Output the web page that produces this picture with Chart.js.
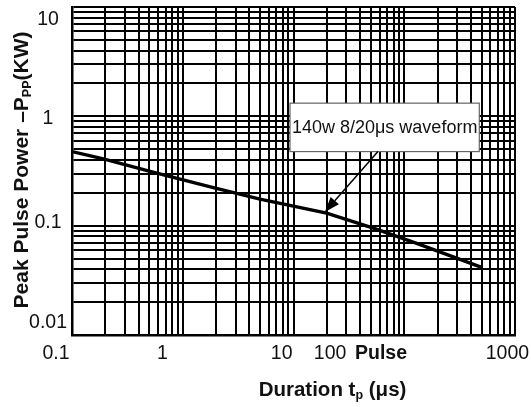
<!DOCTYPE html>
<html><head><meta charset="utf-8">
<script src="https://cdn.jsdelivr.net/npm/chart.js@4.4.0/dist/chart.umd.min.js"></script>
<style>html,body{margin:0;padding:0;background:#fff;overflow:hidden}#wrap{width:531px;height:407px;position:relative}</style>
</head><body><div id="wrap"><canvas id="c"></canvas></div>
<script>
// ---- data ----
const durations = [0.1, 0.192, 0.582, 1.89, 4.98, 19.9, 52.6, 129.5, 500];      // µs
const peakPower = [0.476, 0.408, 0.302, 0.223, 0.175, 0.130, 0.0948, 0.069, 0.0415]; // kW

// tick labels (placed where the reference prints them)
const xTickValues = [0.0717, 0.656, 7.82, 21.4, 61.7, 855];
const xTickLabels = ['0.1', '1', '10', '100', 'Pulse', '1000'];
const xTickBold   = [false, false, false, false, true, false];
const yTickValues = [7.65, 0.949, 0.106, 0.0129];
const yTickLabels = ['10', '1', '0.1', '0.01'];

// grid decades
const xDecades = [0.1, 1, 10, 100];
const xMax = 1000;
const yDecades = [0.01, 0.1, 1];
const yMax = 10;
const gridSteps = [1, 2, 3, 4, 5, 6, 7, 8, 9];

// annotation
const noteText = '140w 8/20μs waveform';
const noteBoxX = [9.3, 476];
const noteBoxY = [1.32, 0.476];
const noteArrowFrom = [57.9, 0.476];
const noteArrowTo = [19.2, 0.1336];

const FAMILY = '"Liberation Sans", Arial, Helvetica, sans-serif';

function buildTicks(decades, max, labelVals, labelTexts, bold) {
  const t = [];
  decades.forEach(d => gridSteps.forEach(s => t.push({value: +(s * d).toPrecision(6), isGrid: true, text: ''})));
  t.push({value: max, isGrid: true, text: ''});
  labelVals.forEach((v, i) => t.push({value: v, isGrid: false, text: labelTexts[i], bold: bold ? bold[i] : false}));
  t.sort((a, b) => a.value - b.value);
  return t;
}

const annotationPlugin = {
  id: 'note',
  afterDatasetsDraw(chart) {
    const {ctx, scales: {x, y}} = chart;
    ctx.save();
    const l = x.getPixelForValue(noteBoxX[0]), r = x.getPixelForValue(noteBoxX[1]);
    const t = y.getPixelForValue(noteBoxY[0]), b = y.getPixelForValue(noteBoxY[1]);
    ctx.fillStyle = '#fff';
    ctx.fillRect(l, t, r - l, b - t);
    ctx.strokeStyle = '#666';
    ctx.lineWidth = 1.2;
    ctx.strokeRect(l, t, r - l, b - t);
    ctx.fillStyle = '#111';
    ctx.font = '18px ' + FAMILY;
    ctx.textAlign = 'center';
    ctx.textBaseline = 'middle';
    ctx.fillText(noteText, (l + r) / 2, (t + b) / 2 + 1);
    // arrow
    const x1 = x.getPixelForValue(noteArrowFrom[0]), y1 = y.getPixelForValue(noteArrowFrom[1]);
    const x2 = x.getPixelForValue(noteArrowTo[0]), y2 = y.getPixelForValue(noteArrowTo[1]);
    const ang = Math.atan2(y2 - y1, x2 - x1);
    const hl = 15, hw = 5.5;
    const bx = x2 - hl * Math.cos(ang), by = y2 - hl * Math.sin(ang);
    ctx.strokeStyle = '#000';
    ctx.lineWidth = 1.5;
    ctx.beginPath(); ctx.moveTo(x1, y1); ctx.lineTo(bx, by); ctx.stroke();
    ctx.fillStyle = '#000';
    ctx.beginPath();
    ctx.moveTo(x2, y2);
    ctx.lineTo(bx + hw * Math.sin(ang), by - hw * Math.cos(ang));
    ctx.lineTo(bx - hw * Math.sin(ang), by + hw * Math.cos(ang));
    ctx.closePath(); ctx.fill();
    ctx.restore();
  }
};

function drawRich(ctx, parts, cx, baseY) {
  let total = 0;
  parts.forEach(p => { ctx.font = 'bold ' + p.size + 'px ' + FAMILY; p.w = ctx.measureText(p.t).width; total += p.w; });
  let px = cx - total / 2;
  ctx.textAlign = 'left';
  ctx.textBaseline = 'alphabetic';
  parts.forEach(p => { ctx.font = 'bold ' + p.size + 'px ' + FAMILY; ctx.fillText(p.t, px, baseY + p.dy); px += p.w; });
}

const titlePlugin = {
  id: 'titles',
  afterDraw(chart) {
    const {ctx, chartArea: ca} = chart;
    ctx.save();
    ctx.fillStyle = '#111';
    // x-axis title
    drawRich(ctx, [
      {t: 'Duration t', size: 20.5, dy: 0},
      {t: 'p', size: 12.5, dy: 3},
      {t: ' (μs)', size: 20.5, dy: 0}
    ], 332.5, 396);
    // y-axis title
    ctx.translate(20, (ca.top + ca.bottom) / 2 - 1);
    ctx.rotate(-Math.PI / 2);
    drawRich(ctx, [
      {t: 'Peak Pulse Power –P', size: 21, dy: 0},
      {t: 'PP', size: 12.5, dy: 3},
      {t: '(KW)', size: 21, dy: 0}
    ], 0, 7.5);
    ctx.restore();
  }
};

const xTicks = buildTicks(xDecades, xMax, xTickValues, xTickLabels, xTickBold);
const yTicks = buildTicks(yDecades, yMax, yTickValues, yTickLabels, null);

const gridColor = c => (c.tick && c.tick.isGrid) ? '#000' : 'rgba(0,0,0,0)';

new Chart(document.getElementById('c'), {
  type: 'line',
  data: {
    datasets: [{
      data: durations.map((d, i) => ({x: d, y: peakPower[i]})),
      borderColor: '#000',
      borderWidth: 3.4,
      pointRadius: 0,
      tension: 0,
      fill: false
    }]
  },
  options: {
    responsive: true,
    maintainAspectRatio: false,
    animation: false,
    devicePixelRatio: 1,
    layout: {padding: {left: 0, right: 16, top: 7, bottom: 0}},
    plugins: {legend: {display: false}, tooltip: {enabled: false}, title: {display: false}},
    scales: {
      x: {
        type: 'logarithmic', min: 0.1, max: xMax,
        afterBuildTicks: s => { s.ticks = xTicks.map(t => Object.assign({}, t)); },
        afterFit: s => { s.height = 72; s.paddingLeft = 0; s.paddingRight = 0; },
        grid: {color: gridColor, lineWidth: 2, drawTicks: false},
        border: {display: true, color: '#000', width: 2.5},
        ticks: {
          autoSkip: false, maxRotation: 0, padding: 7, color: '#111',
          callback: (v, i, ts) => ts[i].text,
          font: c => ({family: FAMILY, size: 19.5, weight: (c.tick && c.tick.bold) ? 'bold' : 'normal'})
        }
      },
      y: {
        type: 'logarithmic', min: 0.01, max: yMax,
        afterBuildTicks: s => { s.ticks = yTicks.map(t => Object.assign({}, t)); },
        afterFit: s => { s.width = 72; s.paddingTop = 0; s.paddingBottom = 0; },
        grid: {color: gridColor, lineWidth: 2, drawTicks: false},
        border: {display: true, color: '#000', width: 2.5},
        ticks: {
          autoSkip: false, crossAlign: 'center', padding: 5, color: '#111',
          callback: (v, i, ts) => ts[i].text,
          font: {family: FAMILY, size: 19.5}
        }
      }
    }
  },
  plugins: [annotationPlugin, titlePlugin]
});
</script>
</body></html>
